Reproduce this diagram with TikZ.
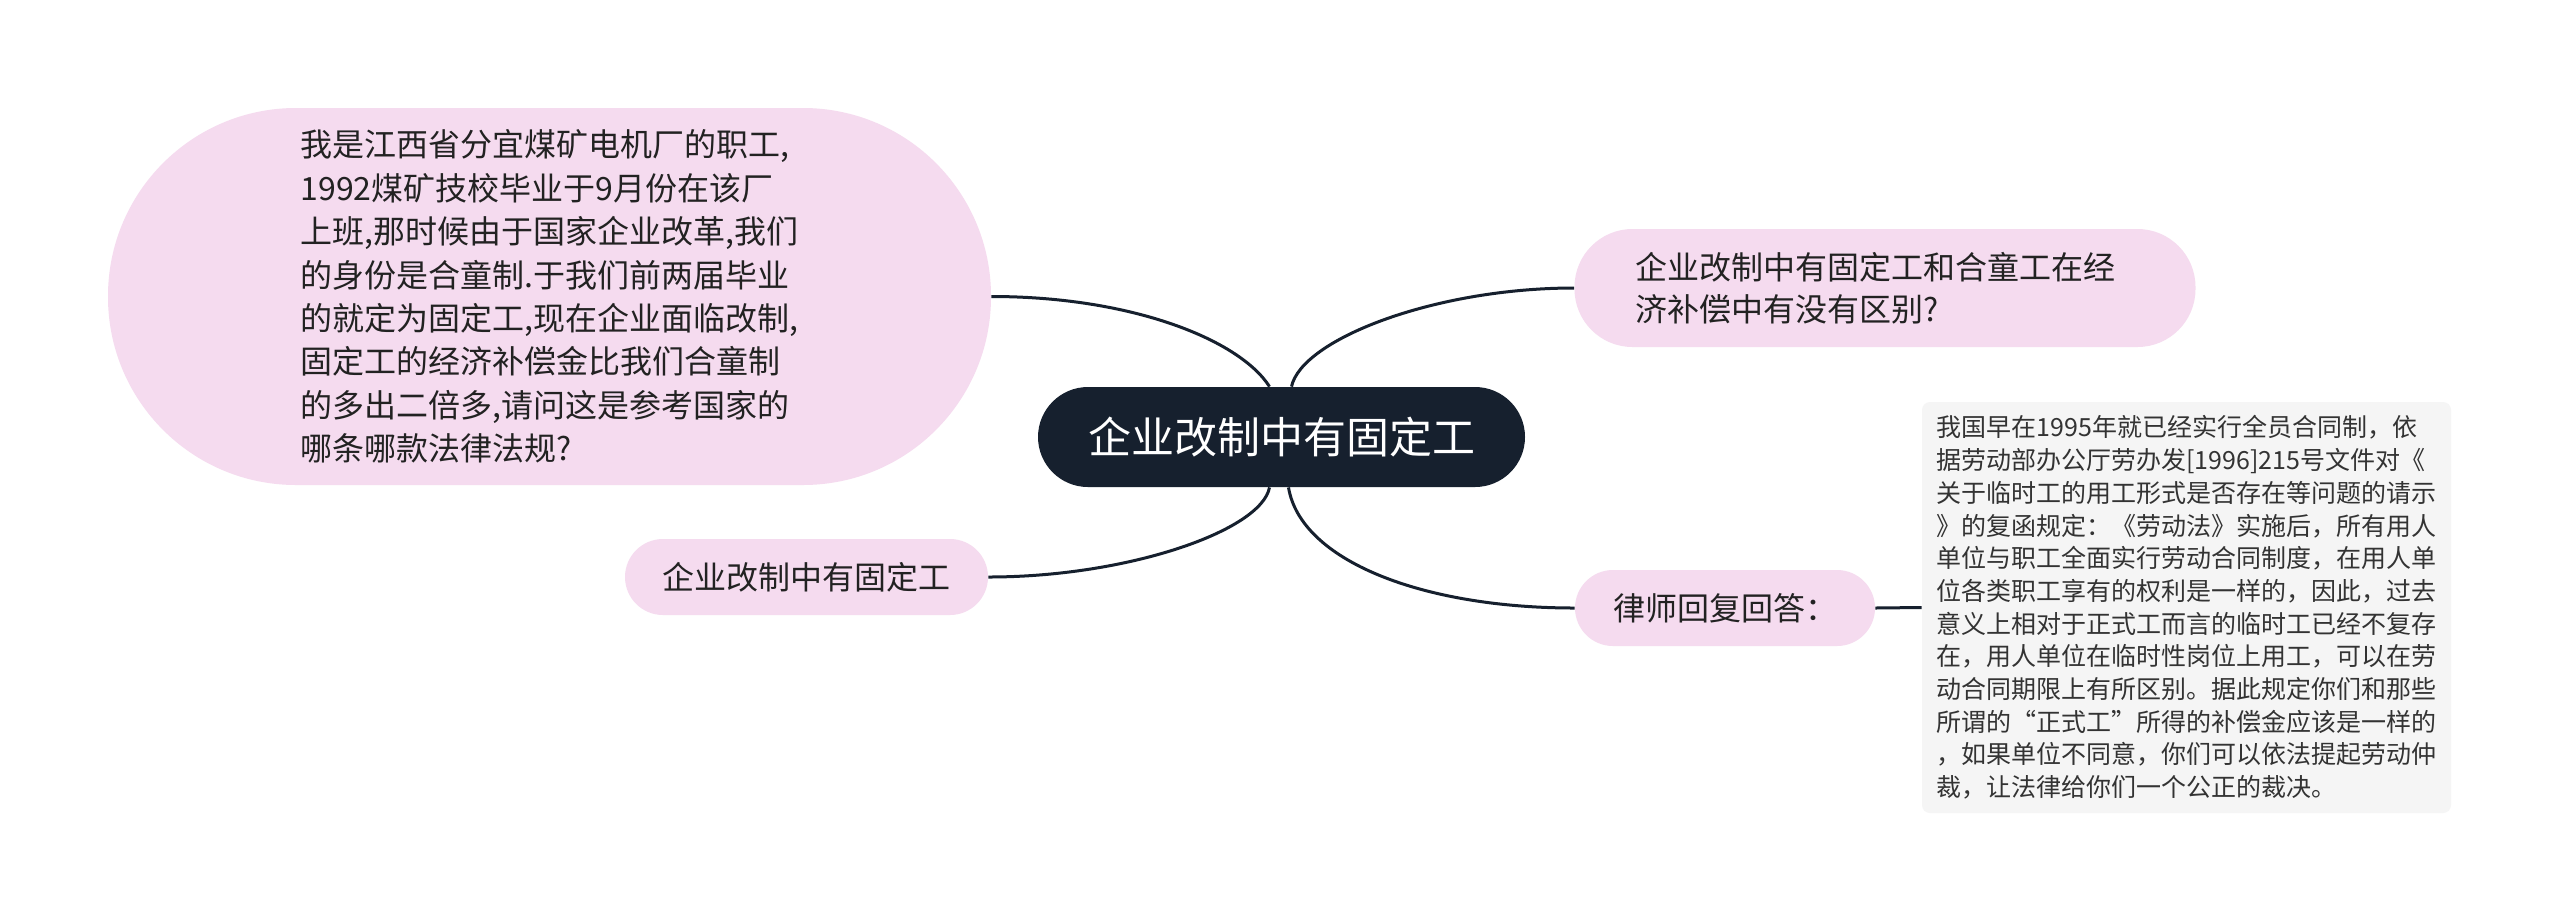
\documentclass[tikz,border=0pt]{standalone}
\usepackage{fontspec}
\setmainfont{Noto Sans CJK SC}
\usepackage{xcolor}
\usepackage{tikz}
\usetikzlibrary{positioning}

\definecolor{navy}{HTML}{16202E}
\definecolor{pinkfill}{HTML}{F5DBEF}
\definecolor{notefill}{HTML}{F5F5F5}
\definecolor{inktext}{HTML}{222222}

\begin{document}
\begin{tikzpicture}[
  x=0.5pt, y=-0.5pt,
  every node/.style={inner sep=0pt, text=inktext},
  root/.style={rectangle, fill=navy, rounded corners=25pt, align=center,
    minimum width=243.5pt, minimum height=50pt, text=white,
    font=\fontsize{21.5pt}{26pt}\selectfont},
  topic/.style={rectangle, fill=pinkfill, align=left,
    font=\fontsize{16pt}{21pt}\selectfont},
  note/.style={rectangle, fill=notefill, rounded corners=4pt, align=left,
    minimum width=264.5pt, minimum height=205.5pt, text=black!80,
    font=\fontsize{12.5pt}{16.35pt}\selectfont},
  branch/.style={draw=navy, line width=1.5pt},
]

% ========= Canvas =========
\fill[white] (0,0) rectangle (2560,923);
\useasboundingbox (0,0) rectangle (2560,923);

% ========= Central topic =========
\node[root] at (1281.5, 437) (root) {企业改制中有固定工};

% ========= Left side =========
\node[topic, minimum width=441.5pt, minimum height=188.5pt, rounded corners=94pt,
      font=\fontsize{16pt}{21.7pt}\selectfont] at (549.5, 296.5) (quest)
  {我是江西省分宜煤矿电机厂的职工,\\
   1992煤矿技校毕业于9月份在该厂\\
   上班,那时候由于国家企业改革,我们\\
   的身份是合童制.于我们前两届毕业\\
   的就定为固定工,现在企业面临改制,\\
   固定工的经济补偿金比我们合童制\\
   的多出二倍多,请问这是参考国家的\\
   哪条哪款法律法规?};
\node[topic, minimum width=181.5pt, minimum height=38pt, rounded corners=19pt]
  at (806.5, 577) (title) {企业改制中有固定工};

% ========= Right side =========
\node[topic, minimum width=310.5pt, minimum height=59pt, rounded corners=29pt,
      text width=250pt] at (1885, 288) (ask)
  {企业改制中有固定工和合童工在经\\济补偿中有没有区别?};
\node[topic, minimum width=150pt, minimum height=38pt, rounded corners=19pt]
  at (1725, 608) (reply) {律师回复回答：};
\node[note] at (2186.5, 607.5) (answer)
  {我国早在1995年就已经实行全员合同制，依\\
   据劳动部办公厅劳办发[1996]215号文件对《\\
   关于临时工的用工形式是否存在等问题的请示\\
   》的复函规定：《劳动法》实施后，所有用人\\
   单位与职工全面实行劳动合同制度，在用人单\\
   位各类职工享有的权利是一样的，因此，过去\\
   意义上相对于正式工而言的临时工已经不复存\\
   在，用人单位在临时性岗位上用工，可以在劳\\
   动合同期限上有所区别。据此规定你们和那些\\
   所谓的“正式工”所得的补偿金应该是一样的\\
   ，如果单位不同意，你们可以依法提起劳动仲\\
   裁，让法律给你们一个公正的裁决。};

% ========= Branches =========
\draw[branch] ([xshift=-6pt]root.north) .. controls +(-30,-47) and +(140,0) .. (quest.east);
\draw[branch] ([xshift=5pt]root.north) .. controls +(10,-47) and +(-140,0) .. (ask.west);
\draw[branch] ([xshift=-6pt]root.south) .. controls +(-8,43) and +(140,0) .. (title.east);
\draw[branch] ([xshift=3.5pt]root.south) .. controls +(12,73) and +(-153,0) .. (reply.west);
\draw[branch] (reply.east) -- (answer.west);

\end{tikzpicture}
\end{document}
